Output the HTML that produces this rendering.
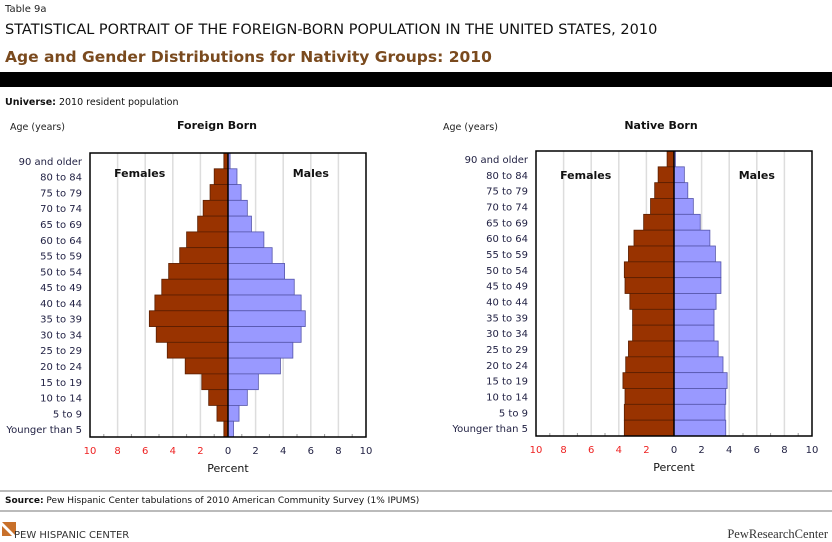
<!DOCTYPE html>
<html><head><meta charset="utf-8"><style>
body{margin:0;background:#fff;width:832px;height:542px;overflow:hidden;font-family:"DejaVu Sans","Liberation Sans",sans-serif;}
svg{position:absolute;left:0;top:0}
</style></head><body>
<svg id="s" width="832" height="542">
<text x="5" y="12" font-size="10" fill="#222">Table 9a</text>
<text x="5" y="34" font-size="14.5" fill="#111">STATISTICAL PORTRAIT OF THE FOREIGN-BORN POPULATION IN THE UNITED STATES, 2010</text>
<text x="5" y="62" font-size="15.5" font-weight="bold" fill="#7a4a1e">Age and Gender Distributions for Nativity Groups: 2010</text>
<rect x="0" y="72" width="832" height="15" fill="#000"/>
<text x="5" y="105" font-size="9.5" fill="#111"><tspan font-weight="bold">Universe:</tspan> 2010 resident population</text>
<rect x="0" y="490" width="832" height="2" fill="#bbb"/>
<text x="5" y="503" font-size="9" fill="#111"><tspan font-weight="bold">Source:</tspan> Pew Hispanic Center tabulations of 2010 American Community Survey (1% IPUMS)</text>
<rect x="0" y="510" width="832" height="2" fill="#bbb"/>
<g>
<path d="M2 522 L16 522 L16 536 Z M2 526 L12 536 L2 536 Z" fill="#c8702a"/>
<text x="14" y="538" font-size="10" fill="#333">PEW HISPANIC CENTER</text>
</g>
<text x="828" y="538" text-anchor="end" font-size="12.5" fill="#333" font-family="Liberation Serif, serif">PewResearchCenter</text>
<g id="charts"></g>
</svg>
<script>
const ages = ["90 and older","80 to 84","75 to 79","70 to 74","65 to 69","60 to 64","55 to 59","50 to 54","45 to 49","40 to 44","35 to 39","30 to 34","25 to 29","20 to 24","15 to 19","10 to 14","5 to 9","Younger than 5"];
const foreignFemales = [0.3,1.0,1.3,1.8,2.2,3.0,3.5,4.3,4.8,5.3,5.7,5.2,4.4,3.1,1.9,1.4,0.8,0.3];
const foreignMales = [0.15,0.65,0.95,1.4,1.7,2.6,3.2,4.1,4.8,5.3,5.6,5.3,4.7,3.8,2.2,1.4,0.8,0.4];
const nativeFemales = [0.5,1.15,1.4,1.7,2.2,2.9,3.3,3.6,3.55,3.2,3.0,3.0,3.3,3.5,3.7,3.55,3.6,3.6];
const nativeMales = [0.1,0.75,1.0,1.4,1.9,2.6,3.0,3.4,3.4,3.05,2.9,2.9,3.2,3.55,3.85,3.75,3.7,3.75];
const tickValues = [-10,-8,-6,-4,-2,0,2,4,6,8,10];
const NS="http://www.w3.org/2000/svg";
const root=document.getElementById('charts');
function mk(tag,attrs,parent,txt){const e=document.createElementNS(NS,tag);for(const k in attrs)e.setAttribute(k,attrs[k]);if(txt!==undefined)e.textContent=txt;(parent||root).appendChild(e);return e;}
function drawChart(c){
  const g=mk('g',{});
  
  
  const x=v=>c.x0+(v+10)/20*(c.x1-c.x0);
  const rowH=(c.y1-c.y0)/ages.length;
  const y=i=>c.y0+i*rowH;
  mk('rect',{x:c.x0,y:c.y0,width:c.x1-c.x0,height:c.y1-c.y0,fill:'#fff'},g);
  tickValues.forEach(t=>{ if(t!==0&&Math.abs(t)!==10){const l=mk('line',{x1:x(t),x2:x(t),y1:c.y0,y2:c.y1,stroke:'#ddd','stroke-width':1.5},g);}});
  for(let v=-9;v<=9;v+=2){mk('line',{x1:x(v),x2:x(v),y1:c.y1-3,y2:c.y1,stroke:'#999'},g);}
  ages.forEach((a,i)=>{
    const f=mk('rect',{x:x(-c.fem[i]),y:y(i),width:x(0)-x(-c.fem[i]),height:rowH,fill:'#993300',stroke:'#5a1e00','stroke-width':0.8},g);
    
    
    const m=mk('rect',{x:x(0),y:y(i),width:x(c.mal[i])-x(0),height:rowH,fill:'#9999ff',stroke:'#5555aa','stroke-width':0.8},g);
    
    
    const lt=mk('text',{x:c.x0-8,y:y(i)+rowH/2+4,'text-anchor':'end','font-size':10,fill:'#222244'},g,a);
    
    
  });
  mk('line',{x1:x(0),x2:x(0),y1:c.y0,y2:c.y1,stroke:'#000','stroke-width':1.5},g);
  mk('rect',{x:c.x0,y:c.y0,width:c.x1-c.x0,height:c.y1-c.y0,fill:'none',stroke:'#000','stroke-width':1.5},g);
  tickValues.forEach(t=>{const tl=mk('text',{x:x(t),y:c.y1+17,'text-anchor':'middle','font-size':10,fill:t<0?'#ee2222':'#222244'},g,String(Math.abs(t)));});
  const p=mk('text',{x:x(0),y:c.y1+35,'text-anchor':'middle','font-size':11,fill:'#111'},g,'Percent');
  
  const ay=mk('text',{x:c.ageX,y:130,'font-size':9.5,fill:'#222'},g,'Age (years)');
  
  const tt=mk('text',{x:c.titleX,y:129,'text-anchor':'middle','font-size':11,'font-weight':'bold',fill:'#111'},g,c.title);
  
  const fl=mk('text',{x:x(-6.4),y:c.y0+c.lblDy,'text-anchor':'middle','font-size':11,'font-weight':'bold',fill:'#111'},g,'Females');
  
  const ml=mk('text',{x:x(6),y:c.y0+c.lblDy,'text-anchor':'middle','font-size':11,'font-weight':'bold',fill:'#111'},g,'Males');
  
}
drawChart({name:'foreign-born-pyramid',x0:90,x1:366,y0:153,y1:437,fem:foreignFemales,mal:foreignMales,title:'Foreign Born',titleX:217,ageX:10,lblDy:24});
drawChart({name:'native-born-pyramid',x0:536,x1:812,y0:151,y1:436,fem:nativeFemales,mal:nativeMales,title:'Native Born',titleX:661,ageX:443,lblDy:28});
</script>
</body></html>
